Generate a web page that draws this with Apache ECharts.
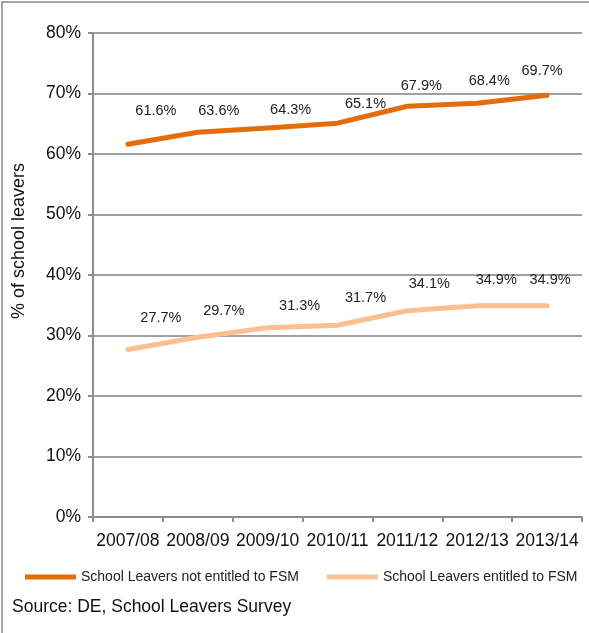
<!DOCTYPE html>
<html>
<head>
<meta charset="utf-8">
<script src="https://cdn.jsdelivr.net/npm/echarts@6/dist/echarts.min.js"></script>
<style>
html, body { margin: 0; padding: 0; background: #fff; overflow: hidden; }
#frame { position: absolute; left: 1px; top: 1px; width: 600px; height: 640px; border: 2px solid #a6a6a6; border-bottom: none; }
#chart { position: absolute; left: 0; top: 0; width: 589px; height: 633px; }
</style>
</head>
<body>
<div id="frame"></div>
<div id="chart"></div>
<script>
// 数据
var years = ['2007/08', '2008/09', '2009/10', '2010/11', '2011/12', '2012/13', '2013/14']
var notFsm = [61.6, 63.6, 64.3, 65.1, 67.9, 68.4, 69.7]
var fsm = [27.7, 29.7, 31.3, 31.7, 34.1, 34.9, 34.9]
var yTicks = [0, 10, 20, 30, 40, 50, 60, 70, 80]

// 标签偏移（与原图位置对应）
var notFsmShift = [[28, -20], [21, -8], [23, -4], [28, -6], [14, -7], [12, -9], [-5, -11]]
var fsmShift = [[33, -18], [26, -13], [32, -8], [28, -14], [22, -13], [19, -12], [3, -12]]

var colors = ['#e46c0a', '#fac090']
var names = ['School Leavers not entitled to FSM', 'School Leavers entitled to FSM']
var font = 'Liberation Sans, Arial, sans-serif'

function withLabels (values, shifts) {
    return values.map(function (v, i) {
        return { value: v, label: { offset: shifts[i] } }
    })
}

function lineSeries (name, values, shifts, color) {
    return {
        name: name,
        type: 'line',
        symbol: 'circle',
        symbolSize: 2,
        showSymbol: true,
        itemStyle: { color: 'rgba(0,0,0,0)', borderWidth: 0 },
        data: withLabels(values, shifts),
        lineStyle: { width: 5, color: color, cap: 'round', join: 'round' },
        label: { show: true, position: 'top', fontSize: 14.5, color: '#222', formatter: '{c}%' }
    }
}

var chart = echarts.init(document.getElementById('chart'))
var options = {
    color: colors,
    animation: false,
    textStyle: { fontFamily: font },
    grid: { left: 93, right: 7, top: 33, bottom: 116 },
    legend: {
        left: 20,
        top: 565,
        itemGap: 28,
        itemWidth: 51,
        itemHeight: 5,
        icon: 'rect',
        textStyle: { fontSize: 14, color: '#222' },
        data: [
            { name: names[0], itemStyle: { color: colors[0], opacity: 1 } },
            { name: names[1], itemStyle: { color: colors[1], opacity: 1 } }
        ]
    },
    graphic: [{
        type: 'text',
        left: 12,
        top: 598,
        style: { text: 'Source: DE, School Leavers Survey', fontSize: 17.5, fill: '#111', fontFamily: font }
    }, {
        type: 'text',
        x: 19,
        y: 241,
        rotation: Math.PI / 2,
        style: { text: '% of school leavers', fontSize: 18, fill: '#111', fontFamily: font, align: 'center', verticalAlign: 'middle' }
    }],
    xAxis: {
        type: 'category',
        data: years,
        boundaryGap: true,
        axisLine: { lineStyle: { color: '#8c8c8c', width: 2 } },
        axisTick: { show: true, length: 5, lineStyle: { color: '#8c8c8c', width: 2 } },
        axisLabel: { fontSize: 17.5, color: '#111', margin: 15, interval: 0 }
    },
    yAxis: {
        type: 'value',
        min: yTicks[0],
        max: yTicks[yTicks.length - 1],
        interval: 10,
        axisLine: { show: true, lineStyle: { color: '#8c8c8c', width: 2 } },
        axisTick: { show: true, length: 5, lineStyle: { color: '#8c8c8c', width: 2 } },
        splitLine: { lineStyle: { color: '#a0a0a0', width: 2 } },
        axisLabel: { fontSize: 17.5, color: '#111', margin: 12, formatter: '{value}%' }
    },
    series: [
        lineSeries(names[0], notFsm, notFsmShift, colors[0]),
        lineSeries(names[1], fsm, fsmShift, colors[1])
    ]
}
chart.setOption(options)
</script>
</body>
</html>
